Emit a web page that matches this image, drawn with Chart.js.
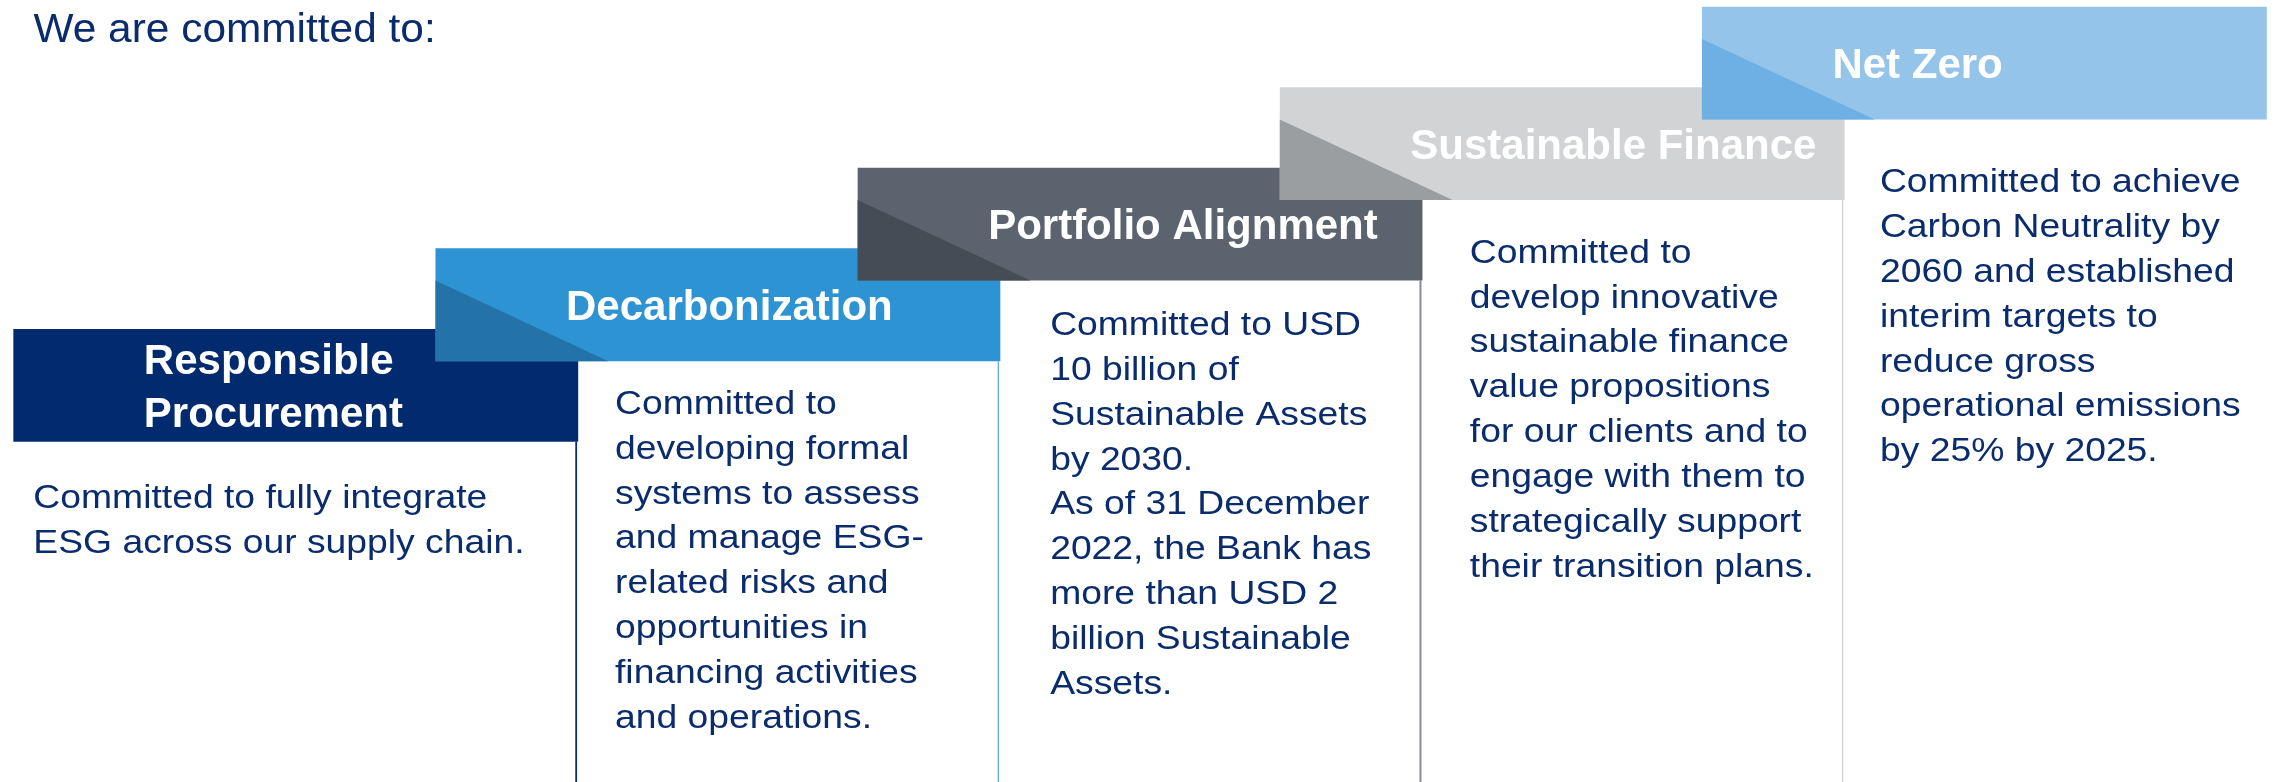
<!DOCTYPE html>
<html>
<head>
<meta charset="utf-8">
<script src="https://cdn.jsdelivr.net/npm/chart.js@4.4.1/dist/chart.umd.min.js"></script>
<style>
  html, body { margin: 0; padding: 0; background: #ffffff; }
  canvas { display: block; }
</style>
</head>
<body>
<canvas id="stepsChart" width="2277" height="782"></canvas>
<script>
// Dados das etapas
const title = "We are committed to:";
const steps = ["Responsible Procurement", "Decarbonization", "Portfolio Alignment", "Sustainable Finance", "Net Zero"];
const headerLines = [["Responsible", "Procurement"], ["Decarbonization"], ["Portfolio Alignment"], ["Sustainable Finance"], ["Net Zero"]];
const levelStart = [0, 1, 2, 3, 4];
const levelEnd = [1.4, 2.4, 3.4, 4.4, 5.4];
const descriptions = [
  ["Committed to fully integrate", "ESG across our supply chain."],
  ["Committed to", "developing formal", "systems to assess", "and manage ESG-", "related risks and", "opportunities in", "financing activities", "and operations."],
  ["Committed to USD", "10 billion of", "Sustainable Assets", "by 2030.", "As of 31 December", "2022, the Bank has", "more than USD 2", "billion Sustainable", "Assets."],
  ["Committed to", "develop innovative", "sustainable finance", "value propositions", "for our clients and to", "engage with them to", "strategically support", "their transition plans."],
  ["Committed to achieve", "Carbon Neutrality by", "2060 and established", "interim targets to", "reduce gross", "operational emissions", "by 25% by 2025."]
];

// Cores e layout
const boxColors = ["#022b6f", "#2d93d3", "#5b646e", "#d1d3d5", "#94c4ea"];
const foldColors = [null, "#2473a8", "#454c55", "#9b9ea1", "#6eb0e3"];
const lineColors = ["#0b2d6e", "#56a3db", "#868b92", "#cfd1d3"];
const lineWidths = [1.8, 1.2, 2, 1.4];
const bodyOffsets = [[20, 66.6], [179.5, 52.6], [192.5, 54.3], [190, 62.6], [178, 72.5]];
const navyText = "#0a2c6d";

// Texto esticado na horizontal
function stretchedText(ctx, text, x, y, sx) {
  ctx.save();
  ctx.translate(x, y);
  ctx.scale(sx, 1);
  ctx.fillText(text, 0, 0);
  ctx.restore();
}

const stepsPlugin = {
  id: "stepsPlugin",
  afterDatasetsDraw(chart) {
    const ctx = chart.ctx;
    const yScale = chart.scales.y;
    const bars = chart.getDatasetMeta(0).data;

    bars.forEach((bar, i) => {
      const left = bar.x - bar.width / 2;
      const top = Math.min(bar.y, bar.base);
      const bottom = Math.max(bar.y, bar.base);

      // dobra escura no canto inferior esquerdo
      if (foldColors[i]) {
        ctx.fillStyle = foldColors[i];
        ctx.beginPath();
        ctx.moveTo(left, yScale.getPixelForValue(levelStart[i] + 1));
        ctx.lineTo(left, bottom);
        ctx.lineTo(left + bar.width * 0.306, bottom);
        ctx.closePath();
        ctx.fill();
      }

      // titulo da etapa
      ctx.fillStyle = "#ffffff";
      ctx.font = "bold 42px 'Liberation Sans', Arial, sans-serif";
      ctx.textAlign = "left";
      ctx.textBaseline = "alphabetic";
      const lines = headerLines[i];
      const mid = (top + bottom) / 2;
      const gap = 52.7;
      lines.forEach((txt, k) => {
        const yy = mid + 15 - (lines.length - 1) * gap / 2 + k * gap;
        ctx.fillText(txt, left + 130.5, yy);
      });
    });
  },
  afterDraw(chart) {
    const ctx = chart.ctx;
    const bars = chart.getDatasetMeta(0).data;

    ctx.save();
    ctx.textAlign = "left";
    ctx.textBaseline = "alphabetic";
    ctx.fillStyle = navyText;
    ctx.font = "40px 'Liberation Sans', Arial, sans-serif";
    stretchedText(ctx, title, 33.5, 41.7, 1.06);

    bars.forEach((bar, i) => {
      const left = bar.x - bar.width / 2;
      const right = bar.x + bar.width / 2;
      const bottom = Math.max(bar.y, bar.base);

      // linha vertical abaixo da caixa
      if (lineColors[i]) {
        ctx.strokeStyle = lineColors[i];
        ctx.lineWidth = lineWidths[i];
        ctx.beginPath();
        ctx.moveTo(right - 2, bottom);
        ctx.lineTo(right - 2, chart.height);
        ctx.stroke();
      }

      // descricao
      ctx.fillStyle = navyText;
      ctx.font = "33px 'Liberation Sans', Arial, sans-serif";
      const [dx, dy] = bodyOffsets[i];
      descriptions[i].forEach((txt, k) => {
        stretchedText(ctx, txt, left + dx, bottom + dy + k * 44.9, 1.13);
      });
    });
    ctx.restore();
  }
};

function renderSteps() {
  const ctx = document.getElementById("stepsChart").getContext("2d");
  new Chart(ctx, {
    type: "bar",
    data: {
      labels: steps,
      datasets: [{
        data: levelStart.map((s, i) => [s, levelEnd[i]]),
        backgroundColor: boxColors,
        borderWidth: 0,
        categoryPercentage: 1,
        barPercentage: 1.338,
        clip: false
      }]
    },
    options: {
      responsive: false,
      devicePixelRatio: 1,
      animation: false,
      events: [],
      layout: { padding: { left: 84.7, right: 81.6, top: 6.7, bottom: 340.3 } },
      scales: {
        x: { type: "category", display: false, offset: true, grid: { display: false } },
        y: { display: false, min: 0, max: 5.4 }
      },
      plugins: {
        legend: { display: false },
        tooltip: { enabled: false },
        title: { display: false }
      }
    },
    plugins: [stepsPlugin]
  });
}

renderSteps();
</script>
</body>
</html>
